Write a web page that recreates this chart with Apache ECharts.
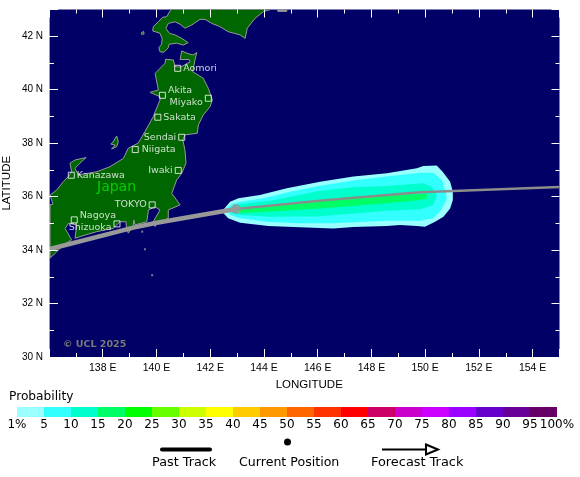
<!DOCTYPE html>
<html>
<head>
<meta charset="utf-8">
<style>
html, body { margin: 0; padding: 0; background: #fff; }
#chart { width: 580px; height: 477px; }
</style>
<script src="https://cdn.jsdelivr.net/npm/echarts@6/dist/echarts.min.js"></script>
</head>
<body>
<div id="chart"></div>
<script>
var lonLabels = [138, 140, 142, 144, 146, 148, 150, 152, 154];
var latLabels = [30, 32, 34, 36, 38, 40, 42];

var scaleLabels = ['1%', '5', '10', '15', '20', '25', '30', '35', '40', '45', '50', '55', '60', '65', '70', '75', '80', '85', '90', '95', '100%'];
var scaleColors = ['#99ffff', '#33ffff', '#00ffcc', '#00ff66', '#00ff00', '#66ff00', '#ccff00', '#ffff00', '#ffcc00', '#ff9900',
    '#ff6600', '#ff3300', '#ff0000', '#cc0066', '#cc00cc', '#cc00ff', '#9900ff', '#6600cc', '#660099', '#660066'];

var honshu = [[136.04,36.06],[136.29,36.25],[136.53,36.56],[136.72,36.75],[136.84,36.93],[136.78,37.25],[136.97,37.37],[137.38,37.46],
    [137.15,37.25],[136.97,37.06],[137.09,36.81],[137.78,36.93],[138.27,37.12],[138.77,37.43],[138.95,37.81],[139.32,38.0],
    [139.57,38.43],[139.88,38.99],[140.13,39.61],[140.13,39.74],[139.76,39.9],[140.07,39.99],[139.95,40.61],[140.32,40.99],
    [140.34,41.14],[140.63,41.11],[140.69,40.86],[140.91,40.85],[141.25,41.04],[141.21,41.13],[140.88,41.13],[140.94,41.45],
    [141.17,41.35],[141.36,41.3],[141.5,41.39],[141.43,41.11],[141.35,40.67],[141.74,40.43],[141.93,40.05],[142.08,39.61],
    [141.99,39.36],[141.74,39.05],[141.56,38.68],[141.52,38.37],[141.06,38.31],[140.98,38.12],[141.06,37.74],[141.1,37.25],
    [140.94,36.87],[140.75,36.62],[140.57,36.12],[140.88,35.69],[140.44,35.5],[140.44,35.19],[140.01,35.0],[139.95,34.88],
    [139.88,35.06],[140.13,35.5],[139.95,35.62],[139.7,35.5],[139.64,35.06],[139.2,34.94],[139.16,35.13],[139.14,34.94],
    [138.95,34.63],[138.87,34.94],[138.87,35.06],[138.64,35.06],[138.39,34.81],[137.78,34.69],[137.34,34.56],[136.97,34.44],
    [137.03,34.94],[136.72,35.0],[136.6,34.81],[136.84,34.38],[136.53,34.19],[136.29,33.94],[136.04,33.7],
    [136.04,35.7],[136.15,35.72],[136.06,35.98]];
var hokkaido = [[140.54,43],[140.38,42.73],[140.23,42.71],[140.07,42.54],[139.88,42.36],[139.86,42.2],[140.13,42.11],[140.21,41.92],
    [140.19,41.7],[140.09,41.57],[140.13,41.42],[140.28,41.4],[140.44,41.57],[140.47,41.7],[140.75,41.74],[141.0,41.67],
    [141.18,41.76],[140.94,41.92],[140.69,42.05],[140.48,42.11],[140.35,42.3],[140.44,42.48],[140.69,42.54],[140.88,42.45],
    [141.06,42.3],[141.31,42.42],[141.62,42.63],[141.81,42.63],[142.06,42.48],[142.36,42.36],[142.67,42.17],[143.11,42.05],
    [143.3,41.92],[143.38,42.3],[143.67,42.67],[143.98,42.92],[144.23,43]];
var sado = [[138.52,38.27],[138.39,38.05],[138.3,37.97],[138.46,37.93],[138.33,37.78],[138.52,37.87],[138.58,38.05]];
var okushiri = [[139.43,42.12],[139.52,42.18],[139.54,42.09],[139.46,42.06]];
var kunashiri = [[144.5,43],[144.85,43],[144.85,42.93],[144.52,42.93]];
var islets = [[139.47,34.69],[139.57,34.03],[139.84,33.06]];

var prob1 = [[142.43,35.44],[142.74,35.81],[143.05,35.94],[143.85,36.06],[144.85,36.31],[146.09,36.56],[147.33,36.75],[148.57,36.87],
    [149.69,37.06],[149.93,37.15],[150.43,37.16],[150.65,36.93],[150.93,36.56],[151.03,36.18],[151.03,35.87],[150.93,35.56],
    [150.68,35.25],[150.37,35.06],[149.99,34.87],[149.69,34.9],[149.06,34.94],[148.57,34.9],[147.33,34.86],[146.58,34.81],
    [145.34,34.85],[144.16,34.9],[143.11,35.02],[142.67,35.19]];
var prob5 = [[142.61,35.56],[142.8,35.72],[143.11,35.81],[143.98,35.94],[144.97,36.18],[146.09,36.41],[147.33,36.6],[148.57,36.75],
    [149.81,36.89],[150.3,36.89],[150.62,36.62],[150.78,36.12],[150.8,35.87],[150.55,35.44],[150.3,35.19],[149.81,35.1],
    [148.57,35.1],[146.58,35.0],[145.34,35.0],[144.1,35.06],[143.11,35.19],[142.74,35.31]];
var prob10 = [[142.74,35.5],[142.86,35.69],[143.11,35.72],[144.23,35.85],[146.09,36.22],[147.33,36.35],[148.57,36.4],[149.93,36.5],
    [150.24,36.37],[150.43,36.06],[150.3,35.69],[149.81,35.53],[148.57,35.47],[146.09,35.27],[144.23,35.25],[143.11,35.31],[142.8,35.38]];
var prob15 = [[143.11,35.56],[144.85,35.75],[147.33,36.0],[148.57,36.06],[150.06,36.1],[150.08,35.94],[149.81,35.87],[148.57,35.75],
    [146.09,35.56],[144.23,35.44],[143.11,35.38]];

var pastTrack = [[136,34.03],[139.14,34.84],[140.01,35.02],[142.96,35.54]];
var forecastTrack = [[142.96,35.54],[146.09,35.85],[149.81,36.16],[155,36.36]];
var currentPosition = [[142.96,35.54]];

var cityNames = ['Aomori', 'Akita', 'Miyako', 'Sakata', 'Sendai', 'Niigata', 'Iwaki', 'Kanazawa', 'TOKYO', 'Nagoya', 'Shizuoka'];
var cityLon = [140.79, 140.22, 141.93, 140.05, 140.94, 139.21, 140.81, 136.83, 139.84, 136.94, 138.53];
var cityLat = [40.8, 39.79, 39.68, 38.97, 38.22, 37.76, 36.98, 36.8, 35.69, 35.13, 34.98];

var cityLabelPlace = {
    Aomori: ['right', 0, 0], Akita: ['right', 0, -5], Miyako: ['left', 0, 4], Sakata: ['right', 0, 0],
    Sendai: ['left', 0, 0], Niigata: ['right', 1, 0], Iwaki: ['left', 0, 0], Kanazawa: ['right', 0, 0],
    TOKYO: ['left', 0, 0], Nagoya: ['right', 0, -4], Shizuoka: ['left', 0, 4]
};

var cityData = cityNames.map(function (name, i) {
    var place = cityLabelPlace[name];
    return {
        name: name,
        value: [cityLon[i], cityLat[i]],
        label: { position: place[0], offset: [place[1], place[2]] }
    };
});

var bandData = scaleColors.map(function (c, i) { return [i, i + 1]; });

function landSeries(shape, fill, z) {
    return {
        type: 'custom',
        coordinateSystem: 'cartesian2d',
        clip: true,
        silent: true,
        z: z,
        data: [[0]],
        renderItem: function (params, api) {
            return {
                type: 'polygon',
                shape: { points: shape.map(function (p) { return api.coord(p); }) },
                style: { fill: fill, stroke: '#999999', lineWidth: 1 }
            };
        }
    };
}

function probSeries(shape, fill, z) {
    var s = landSeries(shape, fill, z);
    var draw = s.renderItem;
    s.renderItem = function (params, api) {
        var item = draw(params, api);
        item.style = { fill: fill };
        return item;
    };
    return s;
}

var myChart = echarts.init(document.getElementById('chart'), null, { renderer: 'canvas' });

var labelFont = 'Liberation Sans';
var textFont = 'DejaVu Sans';

option = {
    animation: false,
    backgroundColor: '#ffffff',
    textStyle: { fontFamily: textFont },
    grid: [
        { left: 49, top: 9.5, width: 510.5, height: 347.5, show: true, backgroundColor: '#000066', borderWidth: 0, outerBoundsMode: 'none' },
        { left: 17, top: 407, width: 540, height: 10, show: false, outerBoundsMode: 'none' }
    ],
    xAxis: [
        {
            type: 'value', gridIndex: 0, min: 136, max: 155, interval: 2, position: 'bottom', z: 10,
            name: 'LONGITUDE', nameLocation: 'middle', nameGap: 21,
            nameTextStyle: { fontFamily: labelFont, fontSize: 11.5, color: '#000', padding: [0, 0, 0, 10] },
            axisLine: { show: false },
            axisTick: { inside: true, length: 8, lineStyle: { color: '#fff', width: 1 } },
            minorTick: { show: true, splitNumber: 2, length: 4, lineStyle: { color: '#fff', width: 1 } },
            splitLine: { show: false },
            axisLabel: {
                margin: 6, color: '#000', fontFamily: labelFont, fontSize: 10.5,
                formatter: function (v) { return lonLabels.indexOf(v) >= 0 ? v + ' E' : ''; }
            }
        },
        {
            type: 'value', gridIndex: 0, min: 136, max: 155, interval: 2, position: 'top', z: 10,
            axisLine: { show: false },
            axisTick: { inside: true, length: 8, lineStyle: { color: '#fff', width: 1 } },
            minorTick: { show: true, splitNumber: 2, length: 4, lineStyle: { color: '#fff', width: 1 } },
            splitLine: { show: false },
            axisLabel: { show: false }
        },
        {
            type: 'value', gridIndex: 1, min: 0, max: 20, interval: 1,
            axisLine: { show: false },
            axisTick: { show: false },
            splitLine: { show: false },
            axisLabel: {
                margin: 2, color: '#000', fontFamily: textFont, fontSize: 12, hideOverlap: false,
                showMinLabel: true, showMaxLabel: true,
                formatter: function (v) { return scaleLabels[v]; }
            }
        }
    ],
    yAxis: [
        {
            type: 'value', gridIndex: 0, min: 30, max: 43, interval: 2, position: 'left', z: 10,
            name: 'LATITUDE', nameLocation: 'middle', nameGap: 36, nameRotate: 90, nameMoveOverlap: false,
            nameTextStyle: { fontFamily: labelFont, fontSize: 11.5, color: '#000' },
            axisLine: { show: false },
            axisTick: { inside: true, length: 9, lineStyle: { color: '#fff', width: 1 } },
            minorTick: { show: true, splitNumber: 2, length: 5, lineStyle: { color: '#fff', width: 1 } },
            splitLine: { show: false },
            axisLabel: {
                margin: 6, color: '#000', fontFamily: labelFont, fontSize: 10,
                formatter: function (v) { return latLabels.indexOf(v) >= 0 ? v + ' N' : ''; }
            }
        },
        {
            type: 'value', gridIndex: 0, min: 30, max: 43, interval: 2, position: 'right', z: 10,
            axisLine: { show: false },
            axisTick: { inside: true, length: 8, lineStyle: { color: '#fff', width: 1 } },
            minorTick: { show: true, splitNumber: 2, length: 4, lineStyle: { color: '#fff', width: 1 } },
            splitLine: { show: false },
            axisLabel: { show: false }
        },
        { type: 'value', gridIndex: 1, min: 0, max: 1, show: false }
    ],
    series: [
        landSeries(honshu, '#006600', 2),
        landSeries(hokkaido, '#006600', 2),
        landSeries(sado, '#006600', 2),
        landSeries(okushiri, '#006600', 2),
        landSeries(kunashiri, '#999999', 2),
        {
            type: 'scatter', data: islets, symbol: 'rect', symbolSize: 2, z: 2, silent: true,
            itemStyle: { color: '#999999' }
        },
        probSeries(prob1, '#99ffff', 3),
        probSeries(prob5, '#33ffff', 3),
        probSeries(prob10, '#00ffcc', 3),
        probSeries(prob15, '#00ff66', 3),
        {
            type: 'line', data: pastTrack, showSymbol: false, z: 4, silent: true,
            lineStyle: { color: '#999999', width: 4.5, cap: 'butt' }
        },
        {
            type: 'line', data: forecastTrack, showSymbol: false, z: 4, silent: true,
            lineStyle: { color: '#8c8c8c', width: 2.5 }
        },
        {
            type: 'scatter', data: currentPosition, symbolSize: 10, z: 5, silent: true,
            itemStyle: { color: '#999999' }
        },
        {
            type: 'scatter', data: cityData, symbol: 'rect', symbolSize: 6, z: 6, silent: true,
            itemStyle: { color: 'rgba(0,0,0,0)', borderColor: '#fff', borderWidth: 1 },
            label: {
                show: true, color: '#fff', fontFamily: textFont, fontSize: 9.5, distance: 2,
                formatter: function (p) { return p.name; }
            }
        },
        {
            type: 'custom', coordinateSystem: 'cartesian2d', xAxisIndex: 2, yAxisIndex: 2, silent: true,
            data: bandData,
            renderItem: function (params, api) {
                var a = api.coord([api.value(0), 1]);
                var b = api.coord([api.value(1), 0]);
                return {
                    type: 'rect',
                    shape: { x: a[0], y: a[1], width: b[0] - a[0], height: b[1] - a[1] },
                    style: { fill: scaleColors[params.dataIndex] }
                };
            }
        }
    ],
    graphic: [
        { type: 'rect', shape: { x: 47, y: 8, width: 2.6, height: 350 }, z: 20, style: { fill: '#fff' } },
        { type: 'text', left: 97, top: 180, z: 20, style: { text: 'Japan', fill: '#00d000', font: '14px "DejaVu Sans"' } },
        { type: 'text', left: 63, top: 340, z: 20, style: { text: '\u00a9 UCL 2025', fill: '#7a7a7a', font: 'bold 9.5px "DejaVu Sans"' } },
        { type: 'text', left: 9, top: 391, style: { text: 'Probability', fill: '#000', font: '12.2px "DejaVu Sans"' } },
        { type: 'line', shape: { x1: 162, y1: 449.5, x2: 210, y2: 449.5 }, style: { stroke: '#000', lineWidth: 4, lineCap: 'round' } },
        { type: 'circle', shape: { cx: 287.5, cy: 442, r: 3.5 }, style: { fill: '#000' } },
        { type: 'line', shape: { x1: 382, y1: 449.5, x2: 426, y2: 449.5 }, style: { stroke: '#000', lineWidth: 2 } },
        { type: 'polygon', shape: { points: [[426, 444.5], [438, 449.5], [426, 454.5]] }, style: { fill: '#fff', stroke: '#000', lineWidth: 2 } },
        { type: 'text', left: 152, top: 456, style: { text: 'Past Track', fill: '#000', font: '12.8px "DejaVu Sans"' } },
        { type: 'text', left: 239, top: 456, style: { text: 'Current Position', fill: '#000', font: '12.6px "DejaVu Sans"' } },
        { type: 'text', left: 371, top: 456, style: { text: 'Forecast Track', fill: '#000', font: '12.9px "DejaVu Sans"' } }
    ]
};
myChart.setOption(option);
</script>
</body>
</html>
